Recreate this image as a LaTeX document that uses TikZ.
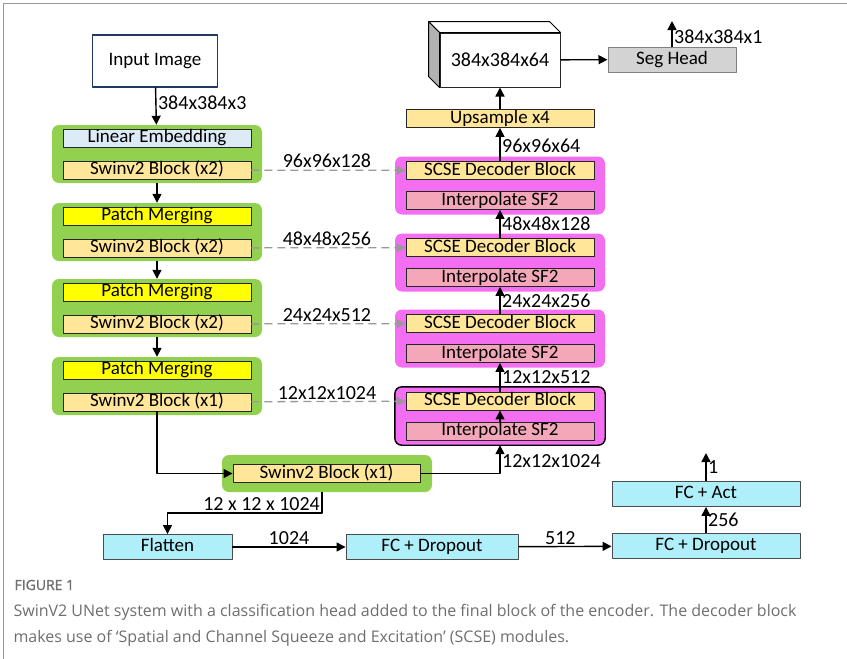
\documentclass[tikz,border=0pt]{standalone}
\usepackage{fontspec}
\setmainfont{Carlito}
\newfontfamily\capfont{Open Sans}
\newfontfamily\capboldfont[FakeBold=1.2]{Open Sans}
\usetikzlibrary{arrows.meta}

\definecolor{grpgreen}{HTML}{92D050}
\definecolor{grppink}{HTML}{F46EF2}
\definecolor{swinfill}{HTML}{FFE699}
\definecolor{linfill}{HTML}{DDEBF7}
\definecolor{patchfill}{HTML}{FFFF00}
\definecolor{interpfill}{HTML}{F4A7B9}
\definecolor{fcfill}{HTML}{AFEFFA}
\definecolor{segfill}{HTML}{D3D3D3}
\definecolor{navy}{HTML}{1F3864}
\definecolor{capgray}{HTML}{6E6E6E}

\tikzset{
  grp/.style={rounded corners=7pt,inner sep=0pt,minimum width=210pt,minimum height=58pt},
  encgrp/.style={grp,fill=grpgreen},
  decgrp/.style={grp,fill=grppink},
  blk/.style={draw=black!85,line width=0.9pt,inner sep=0pt,minimum width=188pt,
    minimum height=18pt,text height=12pt,text depth=3pt},
  fcbox/.style={draw=black!70,line width=0.9pt,fill=fcfill,inner sep=0pt,
    minimum height=25pt,text height=12pt,text depth=3pt},
  lbl/.style={inner sep=1.5pt,font=\fontsize{20}{20}\selectfont},
  arr/.style={-{Triangle[length=9pt,width=9pt]},line width=1.4pt},
  skip/.style={draw=gray!80,line width=1.3pt,dash pattern=on 8pt off 5pt,
    -{Triangle[length=9pt,width=9pt]}},
  captext/.style={anchor=west,text=capgray,font=\capfont\fontsize{16}{16}\selectfont},
}

\begin{document}
\begin{tikzpicture}[x=1pt,y=-1pt,line join=round,font=\fontsize{19}{19}\selectfont]
\useasboundingbox (0,0) rectangle (847,659);
% frame
\draw[gray!80,line width=1pt] (3,659) -- (3,3) -- (847,3);

% encoder
\node[draw=navy,line width=1.2pt,minimum width=125pt,minimum height=52pt] (img) at (155,61) {Input Image};
\node[encgrp] (eg1) at (157,154) {};
\node[blk,fill=linfill] (lin) at (157,138) {Linear Embedding};
\node[blk,fill=swinfill] (sw1) at (157,170) {Swinv2 Block (x2)};
\foreach \i/\y/\n in {2/232/2,3/308/2,4/386/1}{
  \node[encgrp] (eg\i) at (157,\y) {};
  \node[blk,fill=patchfill] (pm\i) at (157,\y-16) {Patch Merging};
  \node[blk,fill=swinfill] (sw\i) at (157,\y+16) {Swinv2 Block (x\n)};
}
\draw[arr] (img) -- node[right,lbl,pos=0.4]{384x384x3} (eg1);
\draw[arr] (eg1) -- (eg2);
\draw[arr] (eg2) -- (eg3);
\draw[arr] (eg3) -- (eg4);

% decoder
\foreach \i/\y in {1/185.5,2/262.5,3/338.5,4/416}{
  \node[decgrp] (dg\i) at (500,\y) {};
  \node[blk,fill=swinfill] (sc\i) at (500,\y-15) {SCSE Decoder Block};
  \node[blk,fill=interpfill] (ip\i) at (500,\y+15) {Interpolate SF2};
}
\draw[line width=1.4pt,rounded corners=7pt] (dg4.north west) rectangle (dg4.south east);
\draw[arr] (ip4) -- (sc4);
\draw[arr] (sc2) -- node[right,lbl]{48x48x128} (ip1);
\draw[arr] (sc3) -- node[right,lbl]{24x24x256} (ip2);
\draw[arr] (sc4) -- node[right,lbl]{12x12x512} (ip3);

% skip connections
\foreach \i/\t in {1/96x96x128,2/48x48x256,3/24x24x512,4/12x12x1024}
  \draw[skip] (sw\i) -- node[above,lbl,pos=0.49]{\t} (sc\i);

% output side
\node[blk,fill=swinfill] (ups) at (500,118.5) {Upsample x4};
\node[draw=black!85,line width=1pt,fill=white,minimum width=120pt,minimum height=54pt,
  font=\fontsize{20}{20}\selectfont] (vol) at (500,60) {384x384x64};
\draw[line width=1pt,fill=white] (vol.north west) -- ++(-11,-11) -- ([shift={(-11,-11)}]vol.north east) -- (vol.north east) -- cycle;
\draw[line width=1pt,fill=gray!60] (vol.north west) -- ++(-11,-11) -- ([shift={(-11,-11)}]vol.south west) -- (vol.south west) -- cycle;
\node[draw=gray,line width=1pt,fill=segfill,minimum width=128pt,minimum height=25pt] (seg) at (672,59.5) {Seg Head};
\coordinate (segout) at (672,21);
\draw[arr] (sc1) -- node[right,lbl,pos=0.45]{96x96x64} (ups);
\draw[arr] (ups) -- (vol);
\draw[arr] (vol) -- (seg);
\draw[arr] (seg) -- node[right,lbl,pos=0.4]{384x384x1} (segout);

% bottleneck
\node[encgrp,minimum width=210pt,minimum height=37pt] (bg) at (327,473.5) {};
\node[blk,fill=swinfill,minimum width=187pt] (bsw) at (326.5,473.5) {Swinv2 Block (x1)};
\draw[arr] (sw4) |- (bsw);
\draw[arr] (bsw) -| node[pos=0.72,right,lbl]{12x12x1024} (dg4);

% classification head
\node[fcbox,minimum width=129pt] (flat) at (167.5,547) {Flatten};
\node[fcbox,minimum width=172pt] (fc1) at (432,547) {FC + Dropout};
\node[fcbox,minimum width=188pt] (fc2) at (706,546) {FC + Dropout};
\node[fcbox,minimum width=188pt] (act) at (706,494) {FC + Act};
\coordinate (bend) at (322,513);
\coordinate (clsout) at (706,453);
\draw[arr] (bg.south -| bend) -- (bend) node[above left,lbl]{12 x 12 x 1024} -| (flat);
\draw[arr] (flat) -- node[above,lbl]{1024} (fc1);
\draw[arr] (fc1) -- node[above,lbl,pos=0.45]{512} (fc2);
\draw[arr] (fc2) -- node[right,lbl]{256} (act);
\draw[arr] (act) -- node[right,lbl]{1} (clsout);

% caption
\node[anchor=west,text=capgray,font=\capboldfont\fontsize{14}{14}\selectfont] (fig) at (11,585) {FIGURE 1};
\node[captext] (cap1) at (10,612)
  {SwinV2 UNet system with a classification head added to the final block of the encoder. The decoder block};
\node[captext] (cap2) at (10,638)
  {makes use of ‘Spatial and Channel Squeeze and Excitation’ (SCSE) modules.};
\end{tikzpicture}
\end{document}
